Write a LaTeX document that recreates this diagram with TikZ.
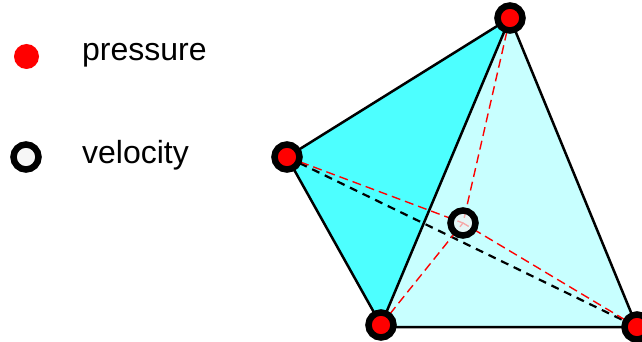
\documentclass[tikz,border=0pt]{standalone}
\usepackage{fontspec}
\setmainfont{Liberation Sans}
\definecolor{facedark}{RGB}{77,255,255}
\definecolor{facelight}{RGB}{200,255,255}
\tikzset{
  pnode/.style={circle,draw=black,fill=red,line width=6.5pt,minimum size=25pt,inner sep=0pt},
  vnode/.style={circle,draw=black,fill=gray!10,fill opacity=0.7,line width=6.5pt,minimum size=25pt,inner sep=0pt},
  legendp/.style={circle,fill=red,minimum size=25pt,inner sep=0pt},
  edge/.style={draw=black,line width=2.5pt,line join=round},
  reddash/.style={draw=red,line width=1.4pt,dash pattern=on 9pt off 5pt},
  blackdash/.style={draw=black,line width=2.2pt,dash pattern=on 8pt off 6pt},
  lab/.style={anchor=base west,inner sep=0pt,font=\fontsize{32pt}{34pt}\selectfont}
}
\begin{document}
\begin{tikzpicture}[x=1pt,y=-1pt]
\useasboundingbox (0,0) rectangle (642,342);
\coordinate (T) at (510,18);
\coordinate (L) at (287,157);
\coordinate (B) at (381,325);
\coordinate (BE) at (381,327);
\coordinate (R) at (637,327);
\coordinate (C) at (463,223);
\fill[facelight] (T) -- (BE) -- (R) -- cycle;
\fill[facedark] (T) -- (L) -- (B) -- cycle;
\draw[blackdash] (L) -- (R);
\draw[reddash] (L) -- (C);
\draw[reddash] (T) -- (C);
\draw[reddash] (B) -- (C);
\draw[reddash] (R) -- (C);
\draw[edge] (L) -- (T) -- (R) -- (BE);
\draw[edge] (B) -- (L);
\draw[edge] (T) -- (B);
\node[pnode] (nT) at (T) {};
\node[pnode] (nL) at (L) {};
\node[pnode] (nB) at (B) {};
\node[pnode] (nR) at (R) {};
\node[vnode,draw opacity=1] (nC) at (C) {};
\node[legendp] (lp) at (26.5,56.5) {};
\node[vnode,draw opacity=1] (lv) at (26,157) {};
\node[lab] (tp) at (82,61) {pressure};
\node[lab] (tv) at (82,163) {velocity};
\end{tikzpicture}
\end{document}
